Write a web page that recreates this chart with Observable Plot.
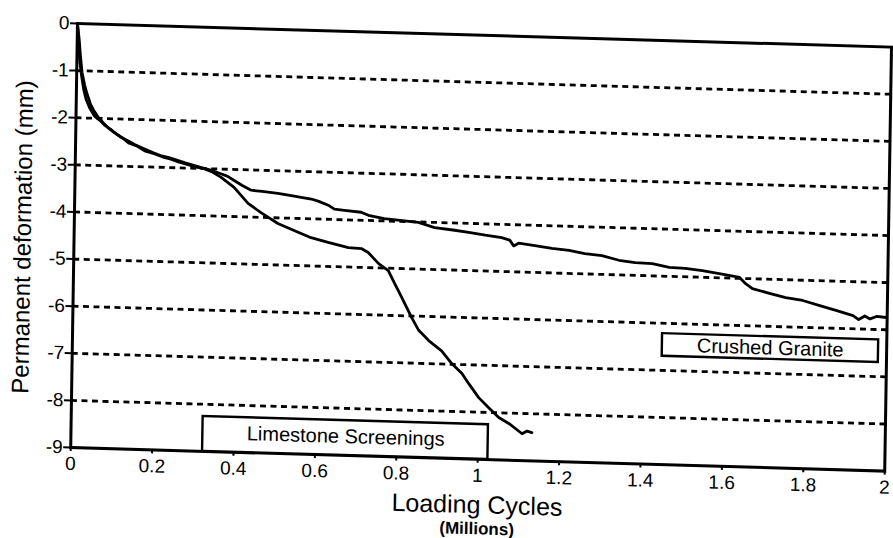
<!DOCTYPE html>
<html>
<head>
<meta charset="utf-8">
<script src="https://cdn.jsdelivr.net/npm/d3@7"></script>
<script src="https://cdn.jsdelivr.net/npm/@observablehq/plot@0.6"></script>
<style>
  html, body { margin: 0; padding: 0; background: #fff; overflow: hidden; }
  #chart { position: absolute; left: 0; top: 0; }
  /* the scanned original is slightly skewed; mimic it */
  #chart svg { transform-origin: 77px 23px; transform: matrix(1, 0.029, -0.016, 1, 0, 0); }
</style>
</head>
<body>
<div id="chart"></div>
<script>
// ---- tick labels / gridlines ----
const xTicks = [0, 0.2, 0.4, 0.6, 0.8, 1, 1.2, 1.4, 1.6, 1.8, 2];
const yTicks = [0, -1, -2, -3, -4, -5, -6, -7, -8, -9];
const gridLevels = [-1, -2, -3, -4, -5, -6, -7, -8];

// ---- series names ----
const seriesNames = ["Crushed Granite", "Limestone Screenings"];

// ---- Crushed Granite (loading cycles in millions, deformation mm) ----
const graniteX = [0, 0.005, 0.008, 0.013, 0.02, 0.026, 0.035, 0.043, 0.055, 0.068, 0.08, 0.093, 0.11, 0.127, 0.145, 0.167, 0.19, 0.209, 0.23, 0.251, 0.27, 0.291, 0.31, 0.333, 0.358, 0.375, 0.39, 0.41, 0.433, 0.46, 0.499, 0.539, 0.556, 0.581, 0.598, 0.623, 0.638, 0.663, 0.704, 0.722, 0.761, 0.80, 0.845, 0.885, 0.93, 0.969, 1.01, 1.05, 1.07, 1.08, 1.092, 1.132, 1.174, 1.216, 1.255, 1.297, 1.339, 1.379, 1.421, 1.463, 1.502, 1.544, 1.586, 1.636, 1.651, 1.668, 1.71, 1.75, 1.792, 1.834, 1.874, 1.916, 1.93, 1.945, 1.958, 1.975, 1.997];
const graniteY = [0, -0.35, -0.64, -1.03, -1.3, -1.48, -1.7, -1.83, -1.98, -2.10, -2.2, -2.28, -2.38, -2.45, -2.53, -2.61, -2.69, -2.75, -2.79, -2.84, -2.89, -2.94, -2.98, -3.03, -3.10, -3.15, -3.23, -3.33, -3.43, -3.45, -3.48, -3.53, -3.55, -3.58, -3.62, -3.70, -3.78, -3.80, -3.83, -3.89, -3.95, -3.98, -4.01, -4.11, -4.15, -4.19, -4.24, -4.28, -4.33, -4.45, -4.39, -4.43, -4.48, -4.51, -4.57, -4.60, -4.69, -4.73, -4.74, -4.81, -4.82, -4.86, -4.91, -4.98, -5.11, -5.21, -5.30, -5.38, -5.43, -5.53, -5.62, -5.72, -5.80, -5.72, -5.78, -5.72, -5.74];

// ---- Limestone Screenings ----
const limestoneX = [0, 0.004, 0.007, 0.012, 0.018, 0.024, 0.033, 0.045, 0.06, 0.072, 0.085, 0.1, 0.115, 0.13, 0.15, 0.17, 0.195, 0.215, 0.235, 0.255, 0.275, 0.295, 0.315, 0.335, 0.358, 0.391, 0.426, 0.458, 0.50, 0.54, 0.582, 0.624, 0.674, 0.706, 0.723, 0.749, 0.773, 0.789, 0.807, 0.832, 0.85, 0.875, 0.907, 0.933, 0.958, 0.975, 1.0, 1.025, 1.05, 1.075, 1.108, 1.12, 1.132];
const limestoneY = [0, -0.45, -0.8, -1.1, -1.4, -1.6, -1.78, -1.95, -2.05, -2.15, -2.22, -2.32, -2.4, -2.5, -2.56, -2.66, -2.72, -2.78, -2.82, -2.88, -2.92, -2.97, -3.0, -3.06, -3.17, -3.38, -3.71, -3.90, -4.12, -4.26, -4.40, -4.49, -4.59, -4.60, -4.68, -4.91, -5.05, -5.32, -5.61, -6.03, -6.30, -6.51, -6.72, -6.99, -7.19, -7.40, -7.69, -7.90, -8.10, -8.22, -8.43, -8.37, -8.40];

const granite = graniteX.map((x, i) => ({x, y: graniteY[i]}));
const limestone = limestoneX.map((x, i) => ({x, y: limestoneY[i]}));

const font = "'Liberation Sans', Arial, Helvetica, sans-serif";

const plot = Plot.plot({
  width: 893,
  height: 538,
  marginLeft: 77,
  marginRight: 2,
  marginTop: 23,
  marginBottom: 91,
  x: {domain: [0, 2]},
  y: {domain: [-9, 0]},
  style: {fontFamily: font, background: "white", color: "black", overflow: "visible"},
  marks: [
    Plot.ruleY(gridLevels, {stroke: "black", strokeWidth: 2.8, strokeDasharray: "6,4.5"}),
    Plot.line(granite, {x: "x", y: "y", stroke: "black", strokeWidth: 2.8}),
    Plot.line(limestone, {x: "x", y: "y", stroke: "black", strokeWidth: 2.8}),
    Plot.frame({stroke: "black", strokeWidth: 3}),
    Plot.axisX(xTicks, {tickSize: 4, tickPadding: 5, fontSize: 19, label: null, tickFormat: d => String(d), strokeWidth: 2}),
    Plot.axisY(yTicks, {tickSize: 7, tickPadding: 1, fontSize: 19, label: null, tickFormat: d => String(d), strokeWidth: 2}),
    // legend boxes
    Plot.rect([seriesNames[1]], {x1: 0.324, x2: 1.025, y1: -9, y2: -8.26, fill: "white", stroke: "black", strokeWidth: 2.4}),
    Plot.text([seriesNames[1]], {x: 0.675, y: -8.6, text: d => d, fontSize: 20}),
    Plot.rect([seriesNames[0]], {x1: 1.449, x2: 1.98, y1: -6.7, y2: -6.22, fill: "white", stroke: "black", strokeWidth: 2.4}),
    Plot.text([seriesNames[0]], {x: 1.714, y: -6.46, text: d => d, fontSize: 20}),
    // axis titles
    Plot.text(["Loading Cycles"], {frameAnchor: "bottom", textAnchor: "middle", lineAnchor: "bottom", dy: 54, text: d => d, fontSize: 25}),
    Plot.text(["(Millions)"], {frameAnchor: "bottom", textAnchor: "middle", lineAnchor: "bottom", dy: 75, text: d => d, fontSize: 17, fontWeight: "bold"}),
    Plot.text(["Permanent deformation (mm)"], {frameAnchor: "left", textAnchor: "middle", lineAnchor: "middle", rotate: -90, dx: -51, dy: 3, text: d => d, fontSize: 24})
  ]
});

document.getElementById("chart").appendChild(plot);
</script>
</body>
</html>
